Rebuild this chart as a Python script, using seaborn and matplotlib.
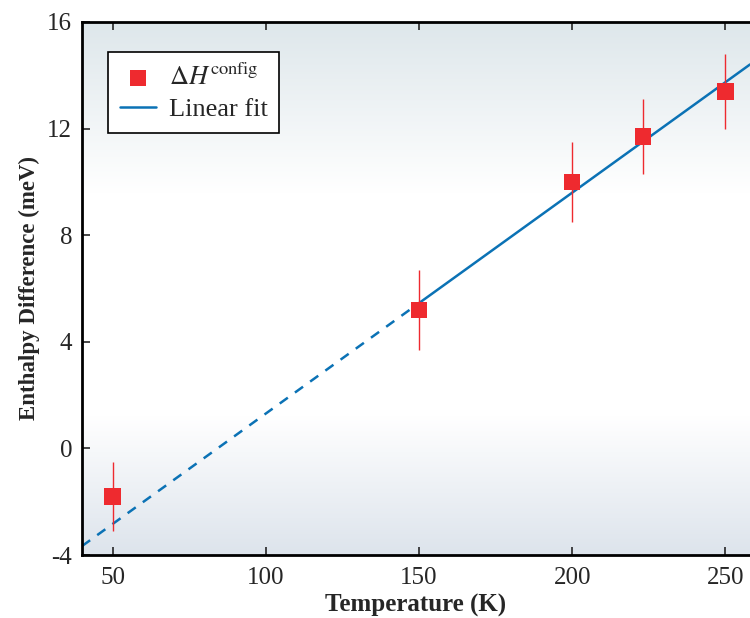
import matplotlib
matplotlib.use("Agg")
import matplotlib.pyplot as plt
import seaborn as sns
import numpy as np
import pandas as pd

# Данные
temps = [50, 150, 200, 223, 250]
dh_config = [-1.8, 5.2, 10.0, 11.7, 13.4]
dh_err = [1.3, 1.5, 1.5, 1.4, 1.4]

# линейная аппроксимация по точкам T >= 150 K
fit_temps = temps[1:]
fit_vals = dh_config[1:]
slope, intercept = np.polyfit(fit_temps, fit_vals, 1)

x_min, x_max = 40, 258
y_min, y_max = -4, 16

sns.set_style("ticks")
plt.rcParams['font.family'] = ['Liberation Serif', 'DejaVu Serif']
plt.rcParams['mathtext.fontset'] = 'stix'
plt.rcParams['axes.unicode_minus'] = False

fig = plt.figure(figsize=(7.5, 6.18), dpi=100)
ax = fig.add_axes([82 / 750, 63 / 618, 668 / 750, 533 / 618])

# фон с градиентом
top_c = np.array([222, 231, 235]) / 255
bot_c = np.array([221, 228, 236]) / 255
white = np.array([1.0, 1.0, 1.0])
pos = np.linspace(0, 1, 300)  # 0 = верх, 1 = низ
grad = np.zeros((300, 1, 3))
for i, p in enumerate(pos):
    if p < 0.32:
        t = p / 0.32
        grad[i, 0] = top_c * (1 - t) + white * t
    elif p < 0.74:
        grad[i, 0] = white
    else:
        t = (p - 0.74) / 0.26
        grad[i, 0] = white * (1 - t) + bot_c * t
ax.imshow(grad, extent=[x_min, x_max, y_min, y_max], aspect='auto',
          origin='upper', zorder=0)

# линия аппроксимации: пунктир (экстраполяция) и сплошная
line_color = '#0b72b5'
dash_df = pd.DataFrame({'T': [x_min, fit_temps[0]]})
dash_df['H'] = slope * dash_df['T'] + intercept
solid_df = pd.DataFrame({'T': [fit_temps[0], x_max]})
solid_df['H'] = slope * solid_df['T'] + intercept

sns.lineplot(data=dash_df, x='T', y='H', ax=ax, color=line_color,
             linewidth=1.8, linestyle=(0, (4, 3.5)), zorder=2)
sns.lineplot(data=solid_df, x='T', y='H', ax=ax, color=line_color,
             linewidth=1.8, zorder=2, label='Linear fit')

# точки с погрешностями
pt_color = '#ee2a2f'
ax.errorbar(temps, dh_config, yerr=dh_err, fmt='none', ecolor=pt_color,
            elinewidth=1.0, capsize=0, zorder=3)
sns.scatterplot(x=temps, y=dh_config, ax=ax, marker='s', s=140,
                color=pt_color, edgecolor='none', zorder=4,
                label=r'$\Delta H^{\mathrm{config}}$')

ax.set_xlim(x_min, x_max)
ax.set_ylim(y_min, y_max)
ax.set_xticks([50, 100, 150, 200, 250])
ax.set_yticks([-4, 0, 4, 8, 12, 16])

for side in ['left', 'bottom', 'top']:
    ax.spines[side].set_linewidth(2)
    ax.spines[side].set_color('black')
ax.spines['right'].set_visible(False)

ax.tick_params(direction='in', length=6, width=1.2, labelsize=18,
               top=True, right=False, pad=7)
ax.tick_params(axis='x', pad=9)

ax.set_xlabel("Temperature (K)", fontsize=18, fontweight='bold', labelpad=3)
ax.set_ylabel("Enthalpy Difference (meV)", fontsize=16.5, fontweight='bold',
              labelpad=5)

# легенда: сначала точки, потом линия
handles, labels = ax.get_legend_handles_labels()
order = [labels.index(r'$\Delta H^{\mathrm{config}}$'), labels.index('Linear fit')]
leg = ax.legend([handles[i] for i in order], [labels[i] for i in order],
                loc='upper left', bbox_to_anchor=(0.039, 0.944), fontsize=19,
                frameon=True, fancybox=False, edgecolor='black',
                framealpha=1, borderpad=0.45, borderaxespad=0,
                handlelength=1.35, handletextpad=0.5, labelspacing=0.3)
leg.get_frame().set_linewidth(1.2)

plt.savefig("out.png", dpi=100)
plt.close()
